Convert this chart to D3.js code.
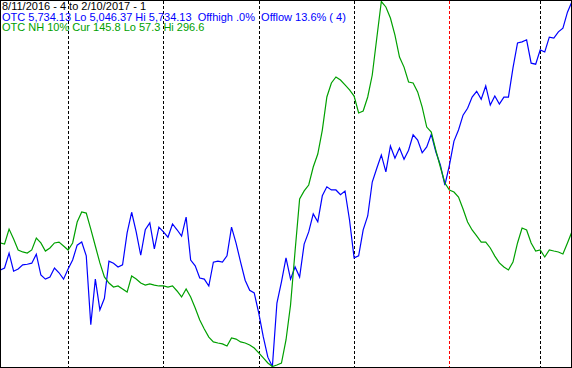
<!DOCTYPE html>
<html lang="en">
<head>
    <meta charset="UTF-8">
    <title>OTC vs OTC NH 10%</title>
    <script src="https://cdn.jsdelivr.net/npm/d3@7"></script>
    <style>
        body {
            margin: 0;
            background-color: white;
        }
        svg {
            display: block;
        }
        .hdr {
            font-family: "Liberation Sans", Arial, sans-serif;
            font-size: 11px;
            white-space: pre;
        }
    </style>
</head>
<body>
    <svg id="chart" width="572" height="368"></svg>

    <script>
        // OTC composite, daily closes 8/11/2016 .. 2/10/2017
        let otc = [5228, 5232, 5260, 5226, 5230, 5238, 5239, 5241, 5258, 5219,
            5211, 5215, 5232, 5223, 5211, 5230, 5247, 5275, 5281, 5255,
            5125, 5211, 5153, 5175, 5245, 5241, 5234, 5238, 5298, 5337,
            5300, 5256, 5304, 5317, 5268, 5309, 5300, 5290, 5315, 5304,
            5292, 5328, 5247, 5236, 5213, 5211, 5198, 5243, 5245, 5243,
            5255, 5309, 5279, 5243, 5209, 5190, 5185, 5147, 5102, 5064,
            5046.37, 5166, 5206, 5251, 5211, 5234, 5215, 5277, 5300, 5334,
            5319, 5368, 5385, 5379, 5379, 5370, 5377, 5322, 5251, 5255,
            5304, 5330, 5394, 5420, 5445, 5413, 5462, 5439, 5458, 5437,
            5454, 5483, 5473, 5449, 5460, 5484, 5451, 5426, 5388, 5426,
            5471, 5492, 5520, 5533, 5554, 5565, 5550, 5575, 5539, 5556,
            5541, 5554, 5554, 5609, 5656, 5658, 5662, 5618, 5616, 5643,
            5639, 5667, 5665, 5677, 5684, 5714, 5734.13]

        // new highs 10% indicator
        let nh = [138.3, 137.6, 147.4, 140.9, 133.7, 132.4, 131.7, 133.7, 141.5, 138.3,
            133.0, 135.0, 138.3, 138.9, 136.3, 133.7, 138.3, 152.0, 158.6, 157.9,
            147.4, 136.3, 125.2, 116.0, 112.0, 109.4, 110.1, 108.1, 106.1, 116.6,
            114.7, 112.0, 110.7, 111.4, 110.7, 110.1, 110.1, 109.4, 110.1, 106.8,
            102.9, 108.1, 102.9, 95.7, 87.8, 81.9, 76.6, 73.4, 72.7, 72.1,
            70.7, 76.0, 75.3, 73.4, 72.7, 71.4, 69.4, 66.2, 62.9, 59.6,
            57.3, 58.3, 59.6, 74.7, 97.6, 133.0, 167.1, 172.4, 176.3, 188.1,
            196.6, 212.3, 234.0, 243.2, 247.1, 245.1, 241.9, 238.6, 234.6, 223.5,
            224.8, 234.0, 248.4, 272.7, 296.6, 293.0, 285.8, 274.6, 260.2, 253.6,
            243.8, 243.2, 237.3, 227.4, 214.3, 211.0, 199.2, 188.1, 177.6, 173.0,
            171.7, 168.4, 160.6, 152.0, 146.8, 142.9, 138.9, 138.9, 135.0, 129.7,
            125.2, 122.5, 120.6, 125.8, 138.3, 148.1, 146.8, 138.3, 133.0, 133.7,
            129.1, 133.7, 133.0, 132.4, 131.1, 138.3, 145.8]

        // first trading day of each month (index into the series)
        let monthStarts = [15, 36, 57, 78, 99, 119]
        let yearStart = 99

        let headerLines = [
            "8/11/2016 - 4 to 2/10/2017 - 1",
            "OTC 5,734.13 Lo 5,046.37 Hi 5,734.13  Offhigh .0%  Offlow 13.6% ( 4)",
            "OTC NH 10% Cur 145.8 Lo 57.3 Hi 296.6"
        ]
        let headerColors = ["#000000", "#0000ff", "#00a000"]

        let width = 572, height = 368

        let svg = d3.select("#chart")

        let x = d3.scaleLinear()
            .domain([0, otc.length - 1])
            .range([0, width])

        let yOtc = d3.scaleLinear()
            .domain([d3.min(otc), d3.max(otc)])
            .range([366.5, 1.5])

        let yNh = d3.scaleLinear()
            .domain([d3.min(nh), d3.max(nh)])
            .range([366.5, 1.5])

        // month separators
        svg.append("g")
            .selectAll("line")
            .data(monthStarts)
            .enter()
            .append("line")
            .attr("x1", d => Math.round(x(d)) + 0.5)
            .attr("x2", d => Math.round(x(d)) + 0.5)
            .attr("y1", 1)
            .attr("y2", height - 1)
            .attr("stroke", d => d === yearStart ? "#ff0000" : "#000000")
            .attr("stroke-width", 1)
            .attr("stroke-dasharray", "3,2")
            .attr("shape-rendering", "crispEdges")

        let lineOtc = d3.line()
            .x((d, i) => x(i))
            .y(d => yOtc(d))

        let lineNh = d3.line()
            .x((d, i) => x(i))
            .y(d => yNh(d))

        svg.append("path")
            .datum(otc)
            .attr("d", lineOtc)
            .attr("fill", "none")
            .attr("stroke", "#0000ff")
            .attr("stroke-width", 1.2)

        svg.append("path")
            .datum(nh)
            .attr("d", lineNh)
            .attr("fill", "none")
            .attr("stroke", "#00a000")
            .attr("stroke-width", 1.2)

        // header text
        svg.append("g")
            .selectAll("text")
            .data(headerLines)
            .enter()
            .append("text")
            .attr("class", "hdr")
            .attr("x", 2)
            .attr("y", (d, i) => 10 + i * 10.5)
            .attr("fill", (d, i) => headerColors[i])
            .text(d => d)

        // frame
        svg.append("rect")
            .attr("x", 0.5)
            .attr("y", 0.5)
            .attr("width", width - 1)
            .attr("height", height - 1)
            .attr("fill", "none")
            .attr("stroke", "#000000")
            .attr("shape-rendering", "crispEdges")
    </script>
</body>
</html>
